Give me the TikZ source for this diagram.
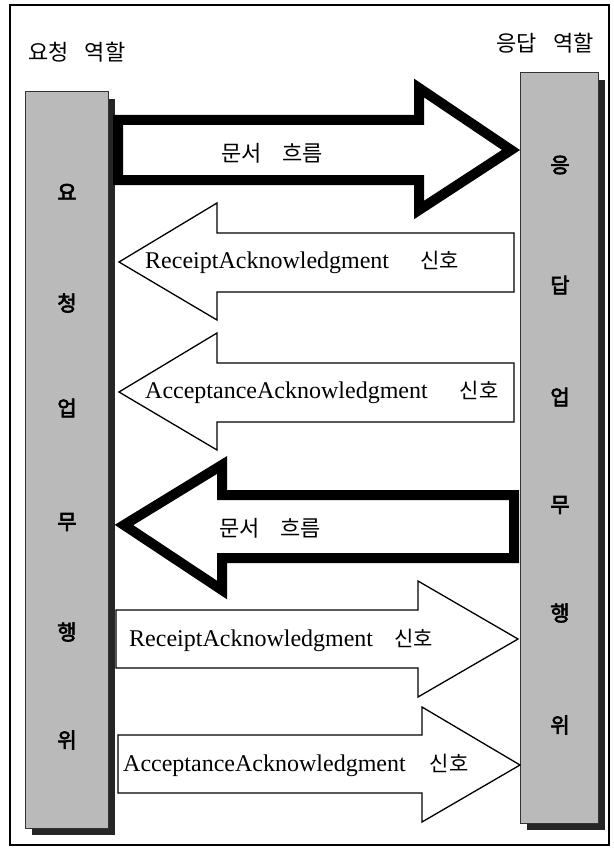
\documentclass[tikz,border=0pt]{standalone}
\usepackage{fontspec}
\setmainfont{Liberation Serif}
\newfontfamily\kr{Noto Sans CJK KR}
\newfontfamily\krb[FakeBold=3]{Noto Sans CJK KR}
\usetikzlibrary{positioning,shadows}

\begin{document}
\begin{tikzpicture}[x=1pt,y=-1pt,
    bar/.style={draw=black!80,fill=black!27,line width=1pt,
      drop shadow={shadow xshift=7pt,shadow yshift=-7pt,fill=black!85,opacity=1}},
    fat/.style={draw,fill=white,line width=10pt,line join=miter},
    slim/.style={draw,fill=white,line width=1.3pt,line join=miter},
    kr/.style={font=\kr\fontsize{22}{26}\selectfont,inner sep=0pt},
    ch/.style={font=\krb\fontsize{21}{24}\selectfont,inner sep=0pt},
    sig/.style={font=\fontsize{24}{28}\selectfont,inner sep=0pt,anchor=west}]
  \useasboundingbox (0,0) rectangle (613,848);
  \draw[line width=1.6pt] (10,5) rectangle (609,845);
  % the two roles
  \node[kr] (reqlbl) at (77,52) {요청\hspace{16pt}역할};
  \node[kr] (reslbl) at (545,43) {응답\hspace{16pt}역할};
  \node[bar,minimum width=83pt,minimum height=736pt] (req) at (66.5,460) {};
  \node[bar,minimum width=78pt,minimum height=750pt] (res) at (559,448) {};
  \foreach \c/\y [count=\i] in {요/192,청/303,업/408,무/522,행/632,위/740}
    \node[ch] (rq\i) at (67,\y) {\c};
  \foreach \c/\y [count=\i] in {응/165,답/285,업/397,무/505,행/613,위/725}
    \node[ch] (rs\i) at (560,\y) {\c};
  % messages, top to bottom
  \draw[fat] (118,120) -- (419,120) -- (419,88) -- (511,150) -- (419,210)
    -- (419,180) -- (118,180) -- cycle;
  \node[kr] (flow1) at (272,153) {문서\hspace{20pt}흐름};
  \draw[slim] (514,233) -- (217,233) -- (217,203) -- (119,262) -- (217,320)
    -- (217,292) -- (514,292) -- cycle;
  \node[sig] (rcpt1) at (145,262) {ReceiptAcknowledgment\hspace{31pt}{\kr\fontsize{21}{24}\selectfont 신호}};
  \draw[slim] (514,363) -- (217,363) -- (217,333) -- (119,392) -- (217,450)
    -- (217,422) -- (514,422) -- cycle;
  \node[sig] (accp1) at (145,392) {AcceptanceAcknowledgment\hspace{32pt}{\kr\fontsize{21}{24}\selectfont 신호}};
  \draw[fat] (514,495) -- (222,495) -- (222,465) -- (124,525) -- (222,590)
    -- (222,558) -- (514,558) -- cycle;
  \node[kr] (flow2) at (270,528) {문서\hspace{20pt}흐름};
  \draw[slim] (116,610) -- (418,610) -- (418,581) -- (518,639) -- (418,697)
    -- (418,668) -- (116,668) -- cycle;
  \node[sig] (rcpt2) at (129,640) {ReceiptAcknowledgment\hspace{21pt}{\kr\fontsize{21}{24}\selectfont 신호}};
  \draw[slim] (118,735) -- (422,735) -- (422,707) -- (520,765) -- (422,822)
    -- (422,793) -- (118,793) -- cycle;
  \node[sig] (accp2) at (123,765) {AcceptanceAcknowledgment\hspace{24pt}{\kr\fontsize{21}{24}\selectfont 신호}};
\end{tikzpicture}
\end{document}
